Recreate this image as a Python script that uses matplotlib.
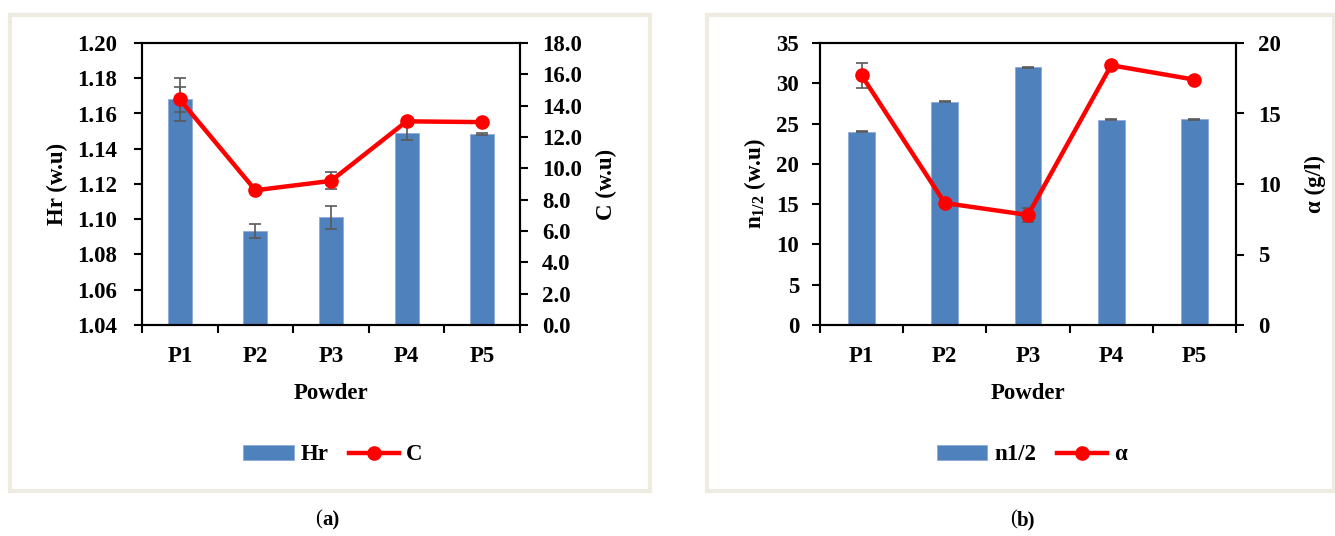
import matplotlib
matplotlib.use('Agg')
import matplotlib.pyplot as plt
from matplotlib.patches import Rectangle
from matplotlib.lines import Line2D
import numpy as np

plt.rcParams['font.family'] = ['Liberation Serif', 'DejaVu Serif']
plt.rcParams['font.weight'] = 'bold'
plt.rcParams['mathtext.fontset'] = 'custom'
plt.rcParams['mathtext.rm'] = 'Liberation Serif'
plt.rcParams['mathtext.bf'] = 'Liberation Serif:bold'

powders = ['P1', 'P2', 'P3', 'P4', 'P5']

# panel (a): Hausner ratio and compressibility
hr = [1.168, 1.0935, 1.1012, 1.149, 1.1483]
hr_err = [0.012, 0.004, 0.0066, 0.004, 0.0005]
c_vals = [14.4, 8.6, 9.2, 13.0, 12.95]
c_err = [0.8, 0.15, 0.54, 0.15, 0.1]

# panel (b): n1/2 and alpha
n_half = [24.0, 27.7, 32.0, 25.5, 25.55]
n_err = [0.05, 0.05, 0.05, 0.05, 0.05]
alpha = [17.7, 8.65, 7.8, 18.42, 17.4]
alpha_err = [0.9, 0.2, 0.5, 0.15, 0.15]

bar_color = '#4F81BD'
line_color = '#FF0000'
err_color = '#595959'
FS = 16.5

W, H = 1335, 536
fig = plt.figure(figsize=(W / 100, H / 100), dpi=100)

# light frames around each panel
for x0, x1 in [(10, 650), (707, 1334)]:
    fig.patches.append(Rectangle((x0 / W, 1 - 491 / H), (x1 - x0) / W, (491 - 15) / H,
                                 transform=fig.transFigure, fill=False,
                                 edgecolor='#EEEBE0', linewidth=3))


def draw_panel(rect, bars, bars_err, line, line_err, ylim_l, yticks_l, fmt_l,
               ylim_r, yticks_r, fmt_r, ylab_l, ylab_r, lab_bar, lab_line,
               ylab_lx, ylab_rx, lpad, legend_x, tag, tag_x):
    ax = fig.add_axes(rect)
    x = np.arange(len(powders))
    ax.bar(x, bars, width=0.32, color=bar_color, edgecolor='#8EAADB', linewidth=0.6, zorder=2)
    ax.errorbar(x, bars, yerr=bars_err, fmt='none', ecolor=err_color, elinewidth=1.2,
                capsize=4, capthick=1.2, zorder=3)
    ax.set_xlim(-0.5, len(powders) - 0.5)
    ax.set_ylim(*ylim_l)
    ax.set_yticks(yticks_l)
    ax.set_yticklabels([fmt_l.format(v) for v in yticks_l])
    ax.set_xticks(np.arange(-0.5, len(powders), 1.0))
    ax.set_xticklabels([])
    ax.set_xticks(x, minor=True)
    ax.set_xticklabels(powders, minor=True)
    ax.tick_params(axis='x', which='minor', length=0, pad=15, labelsize=FS)
    ax.tick_params(axis='x', which='major', length=6, width=1.5, direction='out')
    ax.tick_params(axis='y', length=6, width=1.5, direction='out', pad=lpad, labelsize=FS)
    for s in ax.spines.values():
        s.set_linewidth(1.5)
    ax.set_xlabel('Powder', fontsize=FS, fontweight='bold')
    ax.xaxis.set_label_coords(0.5, -0.205)
    ax.set_ylabel(ylab_l, fontsize=FS, fontweight='bold')
    ax.yaxis.set_label_coords(ylab_lx, 0.5)

    ax2 = ax.twinx()
    ax2.errorbar(x, line, yerr=line_err, fmt='none', ecolor=err_color, elinewidth=1.2,
                 capsize=4, capthick=1.2, zorder=3)
    ax2.plot(x, line, color=line_color, linewidth=3.2, marker='o', markersize=9.5, zorder=4)
    ax2.set_ylim(*ylim_r)
    ax2.set_yticks(yticks_r)
    ax2.set_yticklabels([fmt_r.format(v) for v in yticks_r])
    ax2.tick_params(axis='y', length=6, width=1.5, direction='out', labelsize=FS, pad=10)
    for s in ax2.spines.values():
        s.set_linewidth(1.5)
    ax2.set_ylabel(ylab_r, fontsize=FS, fontweight='bold', rotation=90)
    ax2.yaxis.set_label_coords(ylab_rx, 0.5)

    handles = [Rectangle((0, 0), 1, 1, facecolor=bar_color, edgecolor='#8EAADB', linewidth=0.6),
               Line2D([], [], color=line_color, linewidth=3.2, marker='o', markersize=9.5)]
    fig.legend(handles, [lab_bar, lab_line], loc='center', ncol=2,
               bbox_to_anchor=(legend_x / W, 1 - 455 / H), frameon=False,
               prop={'size': FS, 'weight': 'bold'}, handlelength=2.2,
               handleheight=0.6, columnspacing=0.9, handletextpad=0.3)
    fig.text(tag_x / W, 1 - 520 / H, '(', fontsize=15, fontweight='normal', ha='right', va='center')
    fig.text(tag_x / W, 1 - 520 / H, tag, fontsize=15, fontweight='bold', ha='left', va='center')
    return ax, ax2


draw_panel([142 / W, 1 - 325 / H, 378 / W, 282 / H], hr, hr_err, c_vals, c_err,
           (1.04, 1.20), np.arange(1.04, 1.201, 0.02), '{:.2f}',
           (0, 18), np.arange(0, 18.1, 2), '{:.1f}',
           'Hr (w.u)', 'C (w.u)', 'Hr', 'C', -0.195, 1.2, 12, 333, 'a)', 322)

draw_panel([820 / W, 1 - 325 / H, 416 / W, 282 / H], n_half, n_err, alpha, alpha_err,
           (0, 35), np.arange(0, 36, 5), '{:.0f}',
           (0, 20), np.arange(0, 21, 5), '{:.0f}',
           r'n$_{\mathregular{1/2}}$ (w.u)', 'α (g/l)', 'n1/2', 'α', -0.125, 1.165, 9, 1032, 'b)', 1017)

fig.savefig('out.png', dpi=100)
